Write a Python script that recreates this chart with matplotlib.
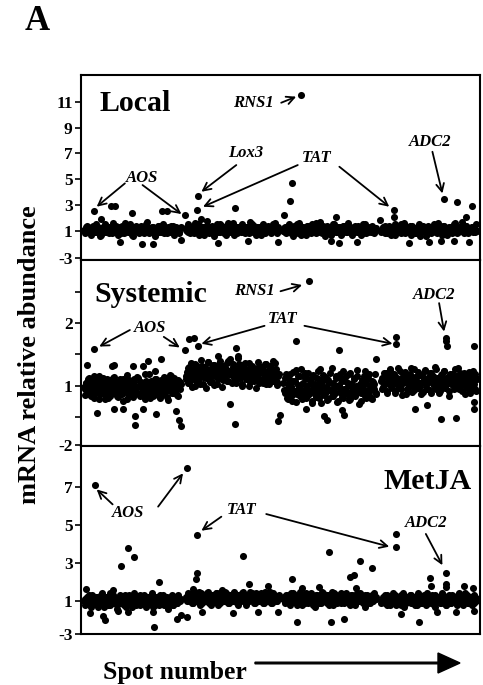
import numpy as np
import matplotlib
matplotlib.use("Agg")
import matplotlib.pyplot as plt

plt.rcParams['font.family'] = ['Liberation Serif', 'DejaVu Serif']

# ---------------- data (values in axis units of each panel) ----------------
# spot blocks (first/last spot of each of the 4 array blocks)
BLOCK_START = [3, 105, 203, 301]
BLOCK_END = [100, 198, 296, 397]

# Local: two rows of spots per block
LOC_B1 = [1.1,0.8,1.4,1.0,1.2,0.7,1.3,1.1,0.9,1.5,1.0,1.2,0.6,1.1,1.3,0.9,1.4,1.0,0.8,1.2,1.1,1.6,0.9,1.0,1.3,0.7,1.2,1.1,1.4,0.8,1.0,1.3,1.1,0.9,1.5,1.2,0.6,1.0,1.1,1.3,0.8,1.2,1.4,1.0,0.9,1.1,1.7,1.2,0.8,1.0,1.3,1.1,0.7,1.2,1.4,0.9,1.1,1.0,1.5,0.8,1.2,1.0,1.3,0.9,1.1,1.4,0.7,1.2,1.0,1.1,0.9,1.3]
LOC_B1R = [1.0,1.3,0.9,1.2,1.1,0.8,1.4,1.0,1.2,0.9,1.3,1.1,0.7,1.0,1.2,1.5,0.9,1.1,1.3,1.0,0.8,1.2,1.1,1.4,0.9,1.0,1.3,0.8,1.1,1.2,1.6,1.0,0.9,1.2,1.1,0.7,1.3,1.0,1.4,1.1,0.9,1.2,1.0,1.3,0.8,1.1,1.5,1.0,1.2,0.9,1.1,1.3,0.6,1.0,1.2,1.4,1.1,0.9,1.0,1.3,1.2,0.8,1.1,1.0,1.4,0.9,1.2,1.1,1.3,1.0,0.8,1.2]
LOC_B2 = [1.2,1.0,1.5,0.8,1.1,1.3,0.9,1.6,1.0,1.2,0.7,1.4,1.1,0.9,1.3,1.0,1.8,1.1,0.8,1.2,1.4,1.0,0.6,1.3,1.1,0.9,1.5,1.2,1.0,0.8,1.3,1.1,1.6,0.9,1.2,1.0,1.4,0.7,1.1,1.3,1.0,1.2,0.9,1.5,1.1,0.8,1.3,1.0,1.2,1.7,0.9,1.1,1.4,1.0,0.7,1.2,1.3,0.9,1.1,1.5,1.0,0.8,1.2,1.4,1.1,0.9,1.3,1.0,1.6,1.2,0.8,1.1]
LOC_B2R = [1.1,0.9,1.3,1.2,1.0,1.4,0.8,1.1,1.2,1.5,0.9,1.0,1.3,1.1,0.7,1.2,1.4,1.0,0.9,1.1,1.3,1.2,0.8,1.0,1.5,1.1,0.9,1.2,1.4,1.0,1.1,0.7,1.3,1.2,1.0,0.9,1.6,1.1,1.2,0.8,1.3,1.0,1.1,1.4,0.9,1.2,1.0,1.3,1.1,0.8,1.2,1.5,1.0,0.9,1.1,1.3,1.2,1.0,0.7,1.4,1.1,0.9,1.2,1.0,1.3,1.1,0.8,1.5,1.2,1.0,0.9,1.3]
LOC_B3 = [1.0,1.3,0.8,1.2,1.5,0.9,1.1,0.6,1.4,1.0,1.2,0.8,1.6,1.1,0.9,1.3,1.0,0.7,1.2,1.4,1.1,0.9,1.5,1.0,1.2,0.8,1.3,1.1,1.7,0.9,1.0,1.2,0.6,1.4,1.1,1.0,1.3,0.8,1.2,1.5,0.9,1.1,1.0,1.3,0.7,1.2,1.4,1.0,0.9,1.6,1.1,1.2,0.8,1.0,1.3,1.1,0.9,1.4,1.2,0.7,1.0,1.5,1.1,0.8,1.3,1.0,1.2,0.9,1.4,1.1,1.0,1.2]
LOC_B3R = [1.2,0.9,1.1,1.4,1.0,0.8,1.3,1.1,0.9,1.2,1.5,1.0,1.1,0.7,1.3,1.2,1.0,0.9,1.4,1.1,1.2,0.8,1.0,1.3,1.1,1.6,0.9,1.2,1.0,0.8,1.4,1.1,1.3,0.9,1.0,1.2,0.7,1.1,1.5,1.0,1.2,0.9,1.3,1.1,1.0,0.8,1.4,1.2,1.1,0.9,1.0,1.3,1.2,0.7,1.1,1.4,1.0,0.9,1.2,1.3,1.1,0.8,1.0,1.5,1.2,0.9,1.1,1.3,1.0,1.2,0.8,1.1]
LOC_B4 = [0.9,1.2,1.0,1.4,0.8,1.1,1.3,0.7,1.2,1.0,1.5,0.9,1.1,1.3,1.0,0.8,1.2,1.6,1.0,0.9,1.3,1.1,0.7,1.4,1.2,1.0,0.8,1.1,1.5,0.9,1.2,1.0,1.3,0.6,1.1,1.4,1.0,1.2,0.9,1.3,1.1,0.8,1.6,1.0,1.2,0.9,1.4,1.1,1.0,0.7,1.3,1.2,0.9,1.1,1.5,1.0,0.8,1.2,1.3,1.0,1.7,0.9,1.1,1.4,0.8,1.2,1.0,1.3,0.9,1.1,1.5,1.0]
LOC_B4R = [1.1,1.3,0.8,1.0,1.2,1.4,0.9,1.1,1.0,1.3,0.7,1.2,1.1,0.9,1.5,1.0,1.2,0.8,1.3,1.1,1.0,1.4,0.9,1.2,1.1,0.8,1.0,1.3,1.2,0.6,1.1,1.4,1.0,0.9,1.2,1.3,1.1,0.8,1.0,1.5,1.2,0.9,1.1,1.3,1.0,0.7,1.2,1.4,1.1,0.9,1.0,1.3,1.2,0.8,1.1,1.6,1.0,0.9,1.2,1.1,1.3,1.0,0.8,1.4,1.2,0.9,1.1,1.0,1.3,1.2,0.9,1.1]
LOC_OUT_SPOT = [13,30,34,51,81,86,104,116,117,154,204,210,212,221,256,314,314,364,377,386,392,
                39,61,72,100,137,167,197,251,259,277,329,349,361,374,389,20,120,300]
LOC_OUT_VAL = [2.5,2.9,2.9,2.4,2.5,2.5,2.2,2.6,3.7,2.8,2.2,3.3,4.7,11.5,2.05,2.6,2.1,3.5,3.2,2.1,2.9,
               0.1,0.0,0.0,0.3,0.05,0.25,0.15,0.2,0.05,0.1,0.05,0.1,0.2,0.2,0.1,1.9,1.9,1.85]

# Systemic
SYS_B1 = [0.98,0.85,1.05,0.92,1.12,0.88,0.95,1.02,0.80,1.08,0.97,0.90,1.15,0.86,1.00,0.93,1.06,0.78,0.99,1.10,0.91,0.84,1.03,0.96,1.13,0.89,0.94,1.01,0.82,1.07,0.98,0.87,1.11,0.93,1.04,0.79,0.96,1.09,0.90,0.99,0.85,1.06,0.94,1.14,0.88,1.00,0.83,0.97,1.05,0.91,1.18,0.86,1.02,0.95,0.80,1.08,0.93,0.99,0.87,1.10,0.96,0.84,1.03,0.92,1.07,0.89,1.12,0.97,0.82,1.01,0.94,1.16,0.88,1.05,0.91,0.98,0.85,1.09,0.95,1.02]
SYS_B1R = [0.94,1.04,0.87,1.10,0.99,0.83,1.06,0.92,1.15,0.89,1.01,0.96,0.78,1.08,0.93,1.12,0.86,1.03,0.97,0.81,1.09,0.95,1.00,0.88,1.14,0.91,1.05,0.84,0.98,1.11,0.90,1.02,0.76,1.07,0.94,1.17,0.87,1.00,0.93,1.04,0.82,1.10,0.96,0.89,1.13,0.99,0.85,1.06,0.92,1.01,0.79,1.08,0.95,1.19,0.88,1.03,0.97,0.84,1.11,0.90,1.05,0.94,0.81,1.09,0.98,0.86,1.14,0.92,1.02,0.77,1.07,0.96,1.00,0.89,1.12,0.93,1.04,0.83,0.99,1.06]
SYS_B2 = [1.10,1.22,1.05,1.30,1.15,0.98,1.25,1.12,1.35,1.08,1.20,1.28,1.02,1.18,1.32,1.14,1.24,0.96,1.19,1.38,1.11,1.27,1.06,1.21,1.33,1.16,1.29,1.03,1.23,1.40,1.13,1.26,1.09,1.31,1.19,1.36,1.07,1.24,1.42,1.17,1.30,1.12,1.27,1.04,1.22,1.34,1.15,1.28,1.00,1.20,1.33,1.10,1.25,1.18,1.37,1.06,1.21,1.29,1.13,1.24,0.97,1.16,1.31,1.09,1.22,1.27,1.05,1.19,1.35,1.12,1.23,1.02,1.17,1.28,1.08,1.21,1.14,1.26,1.01,1.18]
SYS_B2R = [1.16,1.29,1.04,1.21,1.36,1.11,1.25,0.99,1.19,1.32,1.08,1.27,1.14,1.41,1.02,1.22,1.30,1.12,1.18,1.38,1.06,1.24,1.15,1.33,1.01,1.20,1.28,1.10,1.35,1.17,1.23,0.98,1.31,1.13,1.26,1.07,1.39,1.19,1.22,1.04,1.34,1.15,1.27,1.09,1.21,1.44,1.12,1.25,1.03,1.30,1.18,1.36,1.11,1.23,0.99,1.28,1.16,1.32,1.07,1.20,1.26,1.14,1.38,1.05,1.22,1.29,1.10,1.17,1.34,1.02,1.24,1.19,1.31,1.08,1.27,1.13,1.21,1.37,1.06,1.15]
SYS_B3 = [1.05,0.88,1.18,0.95,0.78,1.10,1.00,0.85,1.22,0.92,1.08,0.74,1.15,0.97,0.83,1.26,1.02,0.90,1.12,0.80,0.99,1.20,0.87,1.06,0.76,1.14,0.94,1.03,0.82,1.24,0.91,1.09,0.72,1.00,1.17,0.86,0.96,1.11,0.79,1.05,0.93,1.28,0.84,1.01,0.89,1.13,0.75,0.98,1.19,0.88,1.07,0.81,0.95,1.16,0.90,1.04,0.77,1.21,0.86,0.99,1.10,0.83,0.94,1.15,0.71,1.02,0.89,1.08,0.97,1.23,0.80,0.92,1.12,0.85,1.00,0.78,1.06,0.94,1.18,0.87]
SYS_B3R = [0.93,1.12,0.81,1.03,0.89,1.19,0.96,0.75,1.08,0.91,1.25,0.86,1.01,0.94,1.15,0.79,1.05,0.88,1.21,0.97,0.83,1.10,0.92,1.02,0.73,1.17,0.95,0.87,1.13,1.00,0.80,1.27,0.90,1.06,0.85,1.14,0.98,0.77,1.09,0.93,1.20,0.84,1.04,0.96,0.88,1.16,0.74,1.01,0.91,1.11,0.82,1.23,0.95,1.07,0.87,0.99,1.18,0.79,1.03,0.92,1.13,0.86,1.00,1.25,0.90,0.97,0.76,1.09,0.94,1.15,0.83,1.05,0.89,1.19,0.99,0.81,1.08,0.93,1.02,0.88]
SYS_B4 = [1.08,0.95,1.20,1.02,1.14,0.88,1.10,1.25,0.99,1.05,1.17,0.92,1.12,1.03,1.28,0.97,1.09,0.85,1.15,1.06,1.22,0.94,1.11,1.00,1.18,0.90,1.07,1.26,1.01,1.13,0.96,1.19,1.04,0.87,1.16,1.09,1.23,0.98,1.05,1.14,0.93,1.21,1.08,1.02,1.30,0.95,1.12,1.06,0.89,1.17,1.10,1.00,1.24,0.97,1.13,1.04,0.91,1.18,1.07,1.15,0.99,1.27,1.03,1.11,0.94,1.20,1.08,1.01,1.16,0.86,1.12,1.05,1.22,0.96,1.09,1.14,1.02,1.18,0.92,1.10]
SYS_B4R = [1.12,0.98,1.05,1.21,0.91,1.15,1.03,1.26,0.96,1.09,1.18,0.89,1.07,1.13,1.00,1.24,0.94,1.11,1.04,1.19,0.87,1.08,1.16,0.99,1.28,1.02,1.10,0.93,1.14,1.06,1.22,0.97,1.01,1.17,0.90,1.12,1.25,1.04,0.95,1.09,1.20,0.88,1.06,1.15,1.00,1.27,0.96,1.11,1.03,0.92,1.18,1.08,1.23,0.98,1.05,1.14,0.84,1.10,1.02,1.19,0.94,1.07,1.16,0.99,1.29,1.04,1.12,0.91,1.08,1.21,1.00,0.97,1.15,1.06,0.89,1.11,1.24,1.03,0.95,1.13]
SYS_OUT_SPOT = [6,13,31,33,52,62,67,80,74,89,104,108,113,117,137,155,157,160,192,216,229,259,296,316,316,366,366,367,394,
                16,33,42,54,54,62,75,95,98,100,149,154,197,199,226,244,247,262,264,335,347,361,376,394,394]
SYS_OUT_VAL = [1.33,1.58,1.32,1.33,1.31,1.31,1.39,1.43,1.23,1.17,1.57,1.74,1.76,1.64,1.48,1.60,1.48,1.33,1.40,1.72,2.67,1.57,1.43,1.78,1.67,1.76,1.72,1.63,1.64,
               0.57,0.62,0.62,0.52,0.37,0.62,0.54,0.60,0.45,0.36,0.70,0.38,0.44,0.53,0.62,0.51,0.45,0.61,0.53,0.62,0.69,0.46,0.48,0.62,0.74]

# MetJA
MET_B1 = [1.0,0.8,1.2,0.9,1.1,0.7,1.3,1.0,0.9,1.2,0.8,1.1,1.0,1.4,0.9,0.7,1.1,1.0,1.2,0.8,1.0,1.3,0.9,1.1,0.6,1.0,1.2,0.9,1.1,0.8,1.3,1.0,0.9,1.2,1.0,0.7,1.1,1.4,0.9,1.0,1.2,0.8,1.1,0.9,1.3,1.0,0.8,1.2,1.0,0.9,1.1,0.7,1.2,1.0,1.1,0.8,1.3,0.9,1.0,1.2,0.9,1.1,0.6,1.0,1.2,0.8,1.1,1.0,0.9,1.3,1.0,1.1]
MET_B1R = [1.1,0.9,1.0,1.3,0.8,1.2,1.0,0.9,1.1,1.2,0.7,1.0,1.3,1.1,0.9,1.0,1.2,0.8,1.1,1.4,1.0,0.9,1.2,1.0,0.8,1.1,1.3,0.9,1.0,1.2,1.1,0.7,1.0,1.3,0.9,1.1,1.2,1.0,0.8,1.1,1.0,1.3,0.9,1.2,1.0,1.1,0.7,1.2,0.9,1.0,1.4,1.1,0.8,1.0,1.2,0.9,1.1,1.0,1.3,0.8,1.1,1.2,1.0,0.9,1.1,1.3,0.8,1.0,1.2,0.9,1.1,1.0]
MET_B2 = [1.2,1.0,1.4,1.1,1.3,0.9,1.2,1.5,1.0,1.3,1.1,0.8,1.4,1.2,1.0,1.3,1.1,1.5,0.9,1.2,1.3,1.0,1.1,1.4,1.2,0.8,1.3,1.1,1.6,1.0,1.2,1.4,0.9,1.1,1.3,1.0,1.2,1.5,1.1,0.9,1.3,1.2,1.0,1.4,1.1,1.2,0.8,1.3,1.0,1.5,1.2,1.1,0.9,1.3,1.4,1.0,1.2,1.1,1.3,0.9,1.2,1.5,1.0,1.1,1.3,1.2,0.9,1.4,1.1,1.0,1.2,1.3]
MET_B2R = [1.1,1.3,1.0,1.2,1.4,0.9,1.1,1.3,1.2,1.0,1.5,1.1,0.9,1.2,1.3,1.0,1.4,1.1,1.2,0.8,1.3,1.1,1.0,1.2,1.4,1.1,0.9,1.3,1.2,1.0,1.5,1.1,1.2,0.9,1.3,1.1,1.0,1.4,1.2,1.1,0.8,1.3,1.0,1.2,1.5,1.1,0.9,1.2,1.3,1.0,1.1,1.4,1.2,0.9,1.3,1.1,1.0,1.2,1.4,1.1,0.9,1.3,1.2,1.0,1.1,1.5,0.9,1.2,1.3,1.1,1.0,1.2]
MET_B3 = [1.1,0.9,1.3,1.0,1.2,0.8,1.4,1.1,1.0,1.3,0.9,1.2,1.1,1.5,0.8,1.0,1.2,1.1,1.3,0.9,1.1,1.4,1.0,1.2,0.7,1.1,1.3,1.0,1.2,0.9,1.4,1.1,1.0,1.3,1.1,0.8,1.2,1.5,1.0,1.1,1.3,0.9,1.2,1.0,1.4,1.1,0.9,1.3,1.1,1.0,1.2,0.8,1.3,1.1,1.2,0.9,1.4,1.0,1.1,1.3,1.0,1.2,0.7,1.1,1.3,0.9,1.2,1.1,1.0,1.4,1.1,1.2]
MET_B3R = [1.2,1.0,1.1,1.3,0.9,1.2,1.1,1.4,1.0,1.2,0.8,1.1,1.3,1.0,1.2,1.1,0.9,1.4,1.1,1.0,1.3,1.2,0.8,1.1,1.0,1.3,1.2,0.9,1.1,1.5,1.0,1.2,1.1,0.9,1.3,1.0,1.2,1.1,0.8,1.4,1.1,1.0,1.2,1.3,0.9,1.1,1.2,1.0,1.4,1.1,0.9,1.2,1.0,1.3,1.1,0.8,1.2,1.1,1.0,1.4,1.2,0.9,1.1,1.3,1.0,1.2,1.1,0.9,1.3,1.0,1.2,1.1]
MET_B4 = [0.9,1.1,1.0,1.3,0.8,1.2,1.0,0.9,1.1,1.4,1.0,0.8,1.2,1.1,0.9,1.3,1.0,0.7,1.2,1.1,1.0,1.3,0.9,1.1,1.2,0.8,1.0,1.4,1.1,0.9,1.2,1.0,1.3,0.8,1.1,1.0,1.2,0.9,1.3,1.1,0.7,1.0,1.2,1.1,0.9,1.4,1.0,1.1,0.8,1.2,1.3,1.0,0.9,1.1,1.2,1.0,0.8,1.3,1.1,0.9,1.2,1.0,1.4,1.1,0.9,1.0,1.2,0.8,1.1,1.3,1.0,1.1]
MET_B4R = [1.0,1.2,0.9,1.1,1.3,1.0,0.8,1.2,1.1,1.0,1.3,0.9,1.1,1.2,0.8,1.0,1.4,1.1,0.9,1.2,1.0,1.1,1.3,0.9,1.0,1.2,0.8,1.1,1.3,1.0,0.9,1.2,1.1,1.0,1.4,0.9,1.1,1.2,1.0,0.8,1.3,1.1,1.0,1.2,0.9,1.1,1.3,1.0,0.8,1.2,1.1,0.9,1.0,1.3,1.2,1.0,0.9,1.1,1.4,1.0,1.2,0.8,1.1,1.0,1.3,0.9,1.2,1.1,1.0,0.9,1.2,1.1]
MET_OUT_SPOT = [5,14,32,40,47,53,78,106,112,115,116,116,162,168,187,212,222,239,249,270,274,276,280,292,316,316,350,351,366,366,366,384,393,
                9,24,22,37,47,73,72,96,100,106,121,152,177,197,217,251,264,321,339,357,376,394]
MET_OUT_VAL = [1.63,7.12,1.58,2.86,3.78,3.34,1.99,8.0,1.62,2.14,2.46,4.48,3.37,1.9,1.8,2.14,1.67,1.75,3.6,2.28,2.37,1.67,3.13,2.73,4.52,3.83,2.2,1.8,2.49,1.9,1.76,1.8,1.7,
               0.35,0.0,0.2,0.45,0.4,-0.39,0.4,0.05,0.25,0.15,0.4,0.35,0.4,0.4,-0.1,-0.1,0.05,0.3,-0.1,0.4,0.4,0.5]

PANELS = [
    dict(name="Local", blocks=[(LOC_B1, LOC_B1R), (LOC_B2, LOC_B2R), (LOC_B3, LOC_B3R), (LOC_B4, LOC_B4R)],
         out_x=LOC_OUT_SPOT, out_y=LOC_OUT_VAL,
         ylim=(-1.26, 13.08), ticks=[-1.13, 1, 3, 5, 7, 9, 11], labels=['-3', '1', '3', '5', '7', '9', '11']),
    dict(name="Systemic", blocks=[(SYS_B1, SYS_B1R), (SYS_B2, SYS_B2R), (SYS_B3, SYS_B3R), (SYS_B4, SYS_B4R)],
         out_x=SYS_OUT_SPOT, out_y=SYS_OUT_VAL,
         ylim=(0.034, 3.01), ticks=[0.05, 0.5, 1, 1.5, 2, 2.5], labels=['-2', '', '1', '', '2', '']),
    dict(name="MetJA", blocks=[(MET_B1, MET_B1R), (MET_B2, MET_B2R), (MET_B3, MET_B3R), (MET_B4, MET_B4R)],
         out_x=MET_OUT_SPOT, out_y=MET_OUT_VAL,
         ylim=(-0.74, 9.18), ticks=[-0.72, 1, 3, 5, 7], labels=['-3', '1', '3', '5', '7']),
]

# annotations: (text, text position, [(arrow tail, arrow head), ...])
ANNOTS = [
    [("RNS1", (173, 10.9), [((200.7, 10.93), (215.7, 11.4))]),
     ("AOS", (61.5, 5.07), [((44, 4.68), (15.7, 2.87)), ((61.7, 4.55), (100.7, 2.30))]),
     ("Lox3", (165, 7.0), [((155.7, 6.1), (120.7, 4.03))]),
     ("TAT", (236, 6.64), [((217.3, 6.1), (122.3, 2.87)), ((259, 5.97), (309, 2.87))]),
     ("ADC2", (350.5, 7.9), [((352.3, 7.13), (362.3, 3.9))])],
    [("RNS1", (174, 2.51), [((200, 2.51), (221.7, 2.61))]),
     ("AOS", (69, 1.92), [((49, 1.89), (18.3, 1.625)), ((83, 1.78), (99, 1.61))]),
     ("TAT", (202.3, 2.06), [((184, 1.957), (120.7, 1.67)), ((224, 1.957), (312.3, 1.67))]),
     ("ADC2", (354, 2.45), [((359, 2.32), (364, 1.865))])],
    [("AOS", (47.3, 5.63), [((31.7, 6.1), (15.7, 6.89)), ((77.3, 5.98), (102.3, 7.74))]),
     ("TAT", (160.7, 5.8), [((140.7, 5.45), (120.7, 4.71)), ((185.7, 5.59), (309, 3.87))]),
     ("ADC2", (346.5, 5.1), [((345.7, 4.54), (362.3, 2.89))])],
]
TITLE_POS = [((19, 10.9), 'left'), ((13, 2.45), 'left'), ((392, 7.3), 'right')]

# ---------------- figure ----------------
W, H = 483, 685
fig = plt.figure(figsize=(W / 100, H / 100), dpi=100)

left = 81 / W
width = (480 - 81) / W
edges = [(75, 260), (260, 446), (446, 634)]
MS = 26

for i, p in enumerate(PANELS):
    top_px, bot_px = edges[i]
    ax = fig.add_axes([left, 1 - bot_px / H, width, (bot_px - top_px) / H])
    for b, (row_a, row_b) in enumerate(p["blocks"]):
        xa = np.linspace(BLOCK_START[b], BLOCK_END[b], len(row_a))
        xb = np.linspace(BLOCK_START[b] + 0.7, BLOCK_END[b] - 0.7, len(row_b))
        ax.scatter(xa, row_a, s=MS, color='black', linewidths=0, zorder=3)
        ax.scatter(xb, row_b, s=MS, color='black', linewidths=0, zorder=3)
    ax.scatter(p["out_x"], p["out_y"], s=MS, color='black', linewidths=0, zorder=3)
    ax.set_xlim(0, 400)
    ax.set_ylim(*p["ylim"])
    ax.set_xticks([])
    ax.set_yticks(p["ticks"])
    ax.set_yticklabels(p["labels"], fontsize=12.5, fontweight='bold')
    ax.tick_params(axis='y', direction='out', length=4, width=1.2, pad=2)
    for sp in ax.spines.values():
        sp.set_linewidth(1.5)
    (tx, ty), ha = TITLE_POS[i]
    ax.text(tx, ty, p["name"], fontsize=21.5, fontweight='bold', ha=ha, va='center')
    for label, (lx, ly), arrows in ANNOTS[i]:
        ax.text(lx, ly, label, fontsize=12, fontweight='bold', fontstyle='italic',
                ha='center', va='center')
        for tail, head in arrows:
            ax.annotate('', xy=head, xytext=tail,
                        arrowprops=dict(arrowstyle='->', lw=1.3, color='black',
                                        mutation_scale=14, shrinkA=0, shrinkB=0))

# y label
fig.text(30 / W, 1 - 355 / H, "mRNA relative abundance", rotation=90, fontsize=19,
         fontweight='bold', ha='center', va='center')
# panel letter
fig.text(37 / W, 1 - 22 / H, "A", fontsize=25, fontweight='bold', ha='center', va='center')
# x label with arrow
fig.text(175 / W, 1 - 672 / H, "Spot number", fontsize=18.5, fontweight='bold',
         ha='center', va='center')
fig.patches.append(matplotlib.patches.FancyArrow(
    255 / W, 1 - 663 / H, (438 - 255) / W, 0, width=1.6 / H, head_width=20 / H,
    head_length=22 / W, length_includes_head=False, color='black',
    transform=fig.transFigure, figure=fig))

fig.savefig("out.png", dpi=100)
